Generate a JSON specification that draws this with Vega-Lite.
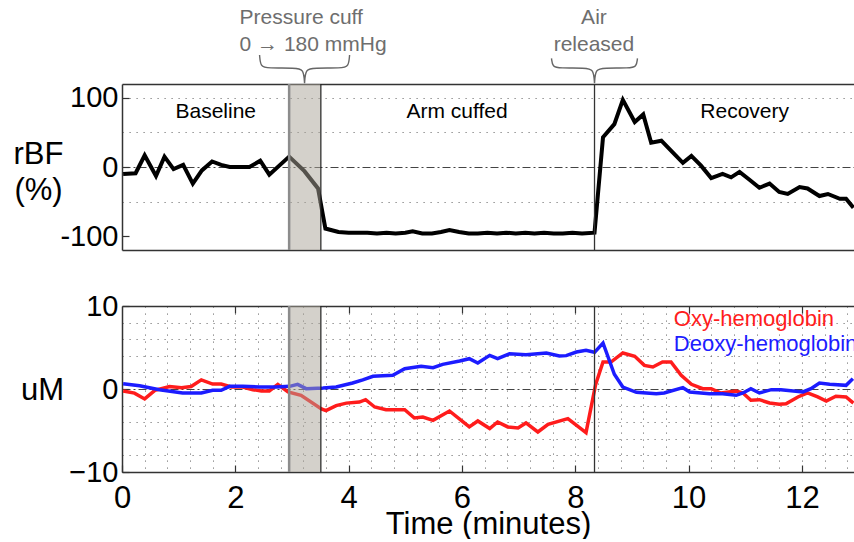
{
  "$schema": "https://vega.github.io/schema/vega-lite/v6.json",
  "background": "white",
  "padding": {"left": 13, "top": 7, "right": 0, "bottom": 0},
  "spacing": 40,
  "config": {
    "font": "Liberation Sans",
    "view": {"stroke": null},
    "axis": {
      "labelFont": "Liberation Sans",
      "titleFont": "Liberation Sans",
      "labelColor": "#000",
      "titleColor": "#000",
      "titleFontWeight": "normal",
      "domainColor": "#333",
      "domainWidth": 1.5,
      "tickColor": "#333",
      "tickWidth": 1.2,
      "labelFlush": false,
      "labelOverlap": false
    }
  },
  "datasets": {
    "rbf": [
      {"t": 0.02, "rbf": -10}, {"t": 0.24, "rbf": -9}, {"t": 0.40, "rbf": 17}, {"t": 0.60, "rbf": -13},
      {"t": 0.75, "rbf": 15}, {"t": 0.91, "rbf": -3}, {"t": 1.08, "rbf": 3}, {"t": 1.25, "rbf": -24},
      {"t": 1.41, "rbf": -5}, {"t": 1.59, "rbf": 8}, {"t": 1.75, "rbf": 3}, {"t": 1.90, "rbf": 0},
      {"t": 2.25, "rbf": 0}, {"t": 2.44, "rbf": 9}, {"t": 2.60, "rbf": -11}, {"t": 2.95, "rbf": 15},
      {"t": 3.22, "rbf": -6}, {"t": 3.46, "rbf": -31}, {"t": 3.59, "rbf": -89}, {"t": 3.82, "rbf": -94},
      {"t": 4.00, "rbf": -95}, {"t": 4.17, "rbf": -95}, {"t": 4.33, "rbf": -95}, {"t": 4.50, "rbf": -96},
      {"t": 4.67, "rbf": -95}, {"t": 4.83, "rbf": -96}, {"t": 5.00, "rbf": -95}, {"t": 5.13, "rbf": -93},
      {"t": 5.30, "rbf": -96}, {"t": 5.47, "rbf": -96}, {"t": 5.63, "rbf": -94}, {"t": 5.78, "rbf": -91},
      {"t": 5.95, "rbf": -94}, {"t": 6.12, "rbf": -96}, {"t": 6.28, "rbf": -96}, {"t": 6.45, "rbf": -95},
      {"t": 6.62, "rbf": -96}, {"t": 6.78, "rbf": -95}, {"t": 6.95, "rbf": -96}, {"t": 7.12, "rbf": -95},
      {"t": 7.28, "rbf": -96}, {"t": 7.45, "rbf": -95}, {"t": 7.62, "rbf": -96}, {"t": 7.78, "rbf": -96},
      {"t": 7.95, "rbf": -95}, {"t": 8.12, "rbf": -96}, {"t": 8.34, "rbf": -95}, {"t": 8.49, "rbf": 43},
      {"t": 8.69, "rbf": 62}, {"t": 8.84, "rbf": 97}, {"t": 9.05, "rbf": 65}, {"t": 9.20, "rbf": 76},
      {"t": 9.34, "rbf": 35}, {"t": 9.52, "rbf": 38}, {"t": 9.72, "rbf": 21}, {"t": 9.90, "rbf": 6},
      {"t": 10.05, "rbf": 16}, {"t": 10.22, "rbf": 2}, {"t": 10.40, "rbf": -16}, {"t": 10.60, "rbf": -10},
      {"t": 10.75, "rbf": -15}, {"t": 10.90, "rbf": -7}, {"t": 11.07, "rbf": -18}, {"t": 11.25, "rbf": -30},
      {"t": 11.43, "rbf": -24}, {"t": 11.60, "rbf": -36}, {"t": 11.75, "rbf": -39}, {"t": 11.96, "rbf": -29},
      {"t": 12.10, "rbf": -31}, {"t": 12.31, "rbf": -42}, {"t": 12.46, "rbf": -39}, {"t": 12.67, "rbf": -46},
      {"t": 12.78, "rbf": -46}, {"t": 12.91, "rbf": -59}
    ],
    "hb": [
      {"species": "Oxy-hemoglobin", "t": 0.02, "uM": -0.24}, {"species": "Oxy-hemoglobin", "t": 0.22, "uM": -0.5},
      {"species": "Oxy-hemoglobin", "t": 0.40, "uM": -1.2}, {"species": "Oxy-hemoglobin", "t": 0.58, "uM": -0.16},
      {"species": "Oxy-hemoglobin", "t": 0.84, "uM": 0.3}, {"species": "Oxy-hemoglobin", "t": 1.05, "uM": 0.16},
      {"species": "Oxy-hemoglobin", "t": 1.22, "uM": 0.3}, {"species": "Oxy-hemoglobin", "t": 1.40, "uM": 1.1},
      {"species": "Oxy-hemoglobin", "t": 1.60, "uM": 0.6}, {"species": "Oxy-hemoglobin", "t": 1.75, "uM": 0.6},
      {"species": "Oxy-hemoglobin", "t": 1.93, "uM": 0.24}, {"species": "Oxy-hemoglobin", "t": 2.13, "uM": 0.24},
      {"species": "Oxy-hemoglobin", "t": 2.31, "uM": -0.08}, {"species": "Oxy-hemoglobin", "t": 2.46, "uM": -0.24},
      {"species": "Oxy-hemoglobin", "t": 2.60, "uM": -0.24}, {"species": "Oxy-hemoglobin", "t": 2.75, "uM": 0.56},
      {"species": "Oxy-hemoglobin", "t": 2.93, "uM": -0.36}, {"species": "Oxy-hemoglobin", "t": 3.16, "uM": -0.76},
      {"species": "Oxy-hemoglobin", "t": 3.52, "uM": -2.4}, {"species": "Oxy-hemoglobin", "t": 3.60, "uM": -2.6},
      {"species": "Oxy-hemoglobin", "t": 3.78, "uM": -2.0}, {"species": "Oxy-hemoglobin", "t": 3.96, "uM": -1.7},
      {"species": "Oxy-hemoglobin", "t": 4.19, "uM": -1.57}, {"species": "Oxy-hemoglobin", "t": 4.30, "uM": -1.29},
      {"species": "Oxy-hemoglobin", "t": 4.46, "uM": -2.17}, {"species": "Oxy-hemoglobin", "t": 4.66, "uM": -2.49},
      {"species": "Oxy-hemoglobin", "t": 4.99, "uM": -2.49}, {"species": "Oxy-hemoglobin", "t": 5.16, "uM": -3.49},
      {"species": "Oxy-hemoglobin", "t": 5.31, "uM": -3.37}, {"species": "Oxy-hemoglobin", "t": 5.49, "uM": -3.77},
      {"species": "Oxy-hemoglobin", "t": 5.78, "uM": -2.65}, {"species": "Oxy-hemoglobin", "t": 6.02, "uM": -3.97},
      {"species": "Oxy-hemoglobin", "t": 6.13, "uM": -4.57}, {"species": "Oxy-hemoglobin", "t": 6.28, "uM": -3.85},
      {"species": "Oxy-hemoglobin", "t": 6.49, "uM": -4.77}, {"species": "Oxy-hemoglobin", "t": 6.63, "uM": -3.97},
      {"species": "Oxy-hemoglobin", "t": 6.81, "uM": -4.57}, {"species": "Oxy-hemoglobin", "t": 6.99, "uM": -4.69},
      {"species": "Oxy-hemoglobin", "t": 7.13, "uM": -4.09}, {"species": "Oxy-hemoglobin", "t": 7.34, "uM": -5.18},
      {"species": "Oxy-hemoglobin", "t": 7.52, "uM": -4.25}, {"species": "Oxy-hemoglobin", "t": 7.87, "uM": -3.57},
      {"species": "Oxy-hemoglobin", "t": 8.19, "uM": -5.26}, {"species": "Oxy-hemoglobin", "t": 8.36, "uM": 0.56},
      {"species": "Oxy-hemoglobin", "t": 8.49, "uM": 3.25}, {"species": "Oxy-hemoglobin", "t": 8.63, "uM": 3.25},
      {"species": "Oxy-hemoglobin", "t": 8.84, "uM": 4.34}, {"species": "Oxy-hemoglobin", "t": 9.05, "uM": 3.94},
      {"species": "Oxy-hemoglobin", "t": 9.22, "uM": 2.85}, {"species": "Oxy-hemoglobin", "t": 9.37, "uM": 2.65},
      {"species": "Oxy-hemoglobin", "t": 9.54, "uM": 3.25}, {"species": "Oxy-hemoglobin", "t": 9.69, "uM": 3.25},
      {"species": "Oxy-hemoglobin", "t": 9.87, "uM": 1.65}, {"species": "Oxy-hemoglobin", "t": 10.05, "uM": 0.56},
      {"species": "Oxy-hemoglobin", "t": 10.25, "uM": 0.04}, {"species": "Oxy-hemoglobin", "t": 10.40, "uM": 0.04},
      {"species": "Oxy-hemoglobin", "t": 10.57, "uM": -0.48}, {"species": "Oxy-hemoglobin", "t": 10.84, "uM": -0.24},
      {"species": "Oxy-hemoglobin", "t": 10.96, "uM": -0.48}, {"species": "Oxy-hemoglobin", "t": 11.10, "uM": -1.36},
      {"species": "Oxy-hemoglobin", "t": 11.25, "uM": -1.29}, {"species": "Oxy-hemoglobin", "t": 11.43, "uM": -1.69},
      {"species": "Oxy-hemoglobin", "t": 11.60, "uM": -1.85}, {"species": "Oxy-hemoglobin", "t": 11.72, "uM": -1.77},
      {"species": "Oxy-hemoglobin", "t": 11.93, "uM": -0.96}, {"species": "Oxy-hemoglobin", "t": 12.10, "uM": -0.48},
      {"species": "Oxy-hemoglobin", "t": 12.28, "uM": -0.96}, {"species": "Oxy-hemoglobin", "t": 12.43, "uM": -1.45},
      {"species": "Oxy-hemoglobin", "t": 12.60, "uM": -0.88}, {"species": "Oxy-hemoglobin", "t": 12.78, "uM": -0.96},
      {"species": "Oxy-hemoglobin", "t": 12.91, "uM": -1.69},
      {"species": "Deoxy-hemoglobin", "t": 0.02, "uM": 0.64}, {"species": "Deoxy-hemoglobin", "t": 0.31, "uM": 0.4},
      {"species": "Deoxy-hemoglobin", "t": 0.66, "uM": -0.08}, {"species": "Deoxy-hemoglobin", "t": 1.07, "uM": -0.48},
      {"species": "Deoxy-hemoglobin", "t": 1.40, "uM": -0.48}, {"species": "Deoxy-hemoglobin", "t": 1.60, "uM": -0.16},
      {"species": "Deoxy-hemoglobin", "t": 1.75, "uM": -0.16}, {"species": "Deoxy-hemoglobin", "t": 1.90, "uM": 0.32},
      {"species": "Deoxy-hemoglobin", "t": 2.13, "uM": 0.32}, {"species": "Deoxy-hemoglobin", "t": 2.43, "uM": 0.24},
      {"species": "Deoxy-hemoglobin", "t": 2.72, "uM": 0.24}, {"species": "Deoxy-hemoglobin", "t": 2.96, "uM": 0.32},
      {"species": "Deoxy-hemoglobin", "t": 3.10, "uM": 0.56}, {"species": "Deoxy-hemoglobin", "t": 3.25, "uM": 0.04},
      {"species": "Deoxy-hemoglobin", "t": 3.55, "uM": 0.12}, {"species": "Deoxy-hemoglobin", "t": 3.78, "uM": 0.24},
      {"species": "Deoxy-hemoglobin", "t": 4.07, "uM": 0.72}, {"species": "Deoxy-hemoglobin", "t": 4.25, "uM": 1.1},
      {"species": "Deoxy-hemoglobin", "t": 4.43, "uM": 1.53}, {"species": "Deoxy-hemoglobin", "t": 4.78, "uM": 1.65},
      {"species": "Deoxy-hemoglobin", "t": 4.99, "uM": 2.45}, {"species": "Deoxy-hemoglobin", "t": 5.28, "uM": 2.73},
      {"species": "Deoxy-hemoglobin", "t": 5.49, "uM": 2.57}, {"species": "Deoxy-hemoglobin", "t": 5.66, "uM": 2.97},
      {"species": "Deoxy-hemoglobin", "t": 5.96, "uM": 3.37}, {"species": "Deoxy-hemoglobin", "t": 6.13, "uM": 3.65},
      {"species": "Deoxy-hemoglobin", "t": 6.28, "uM": 3.13}, {"species": "Deoxy-hemoglobin", "t": 6.49, "uM": 4.05},
      {"species": "Deoxy-hemoglobin", "t": 6.63, "uM": 3.65}, {"species": "Deoxy-hemoglobin", "t": 6.84, "uM": 4.25},
      {"species": "Deoxy-hemoglobin", "t": 7.13, "uM": 4.13}, {"species": "Deoxy-hemoglobin", "t": 7.49, "uM": 4.34},
      {"species": "Deoxy-hemoglobin", "t": 7.72, "uM": 3.98}, {"species": "Deoxy-hemoglobin", "t": 7.84, "uM": 4.02},
      {"species": "Deoxy-hemoglobin", "t": 8.02, "uM": 4.46}, {"species": "Deoxy-hemoglobin", "t": 8.19, "uM": 4.66},
      {"species": "Deoxy-hemoglobin", "t": 8.34, "uM": 4.42}, {"species": "Deoxy-hemoglobin", "t": 8.49, "uM": 5.54},
      {"species": "Deoxy-hemoglobin", "t": 8.69, "uM": 1.77}, {"species": "Deoxy-hemoglobin", "t": 8.84, "uM": 0.24},
      {"species": "Deoxy-hemoglobin", "t": 9.08, "uM": -0.4}, {"species": "Deoxy-hemoglobin", "t": 9.43, "uM": -0.56},
      {"species": "Deoxy-hemoglobin", "t": 9.57, "uM": -0.48}, {"species": "Deoxy-hemoglobin", "t": 9.90, "uM": 0.16},
      {"species": "Deoxy-hemoglobin", "t": 10.02, "uM": -0.36}, {"species": "Deoxy-hemoglobin", "t": 10.37, "uM": -0.56},
      {"species": "Deoxy-hemoglobin", "t": 10.60, "uM": -0.56}, {"species": "Deoxy-hemoglobin", "t": 10.84, "uM": -0.76},
      {"species": "Deoxy-hemoglobin", "t": 10.96, "uM": -0.48}, {"species": "Deoxy-hemoglobin", "t": 11.10, "uM": 0.04},
      {"species": "Deoxy-hemoglobin", "t": 11.25, "uM": -0.48}, {"species": "Deoxy-hemoglobin", "t": 11.46, "uM": -0.08},
      {"species": "Deoxy-hemoglobin", "t": 11.63, "uM": -0.08}, {"species": "Deoxy-hemoglobin", "t": 12.02, "uM": -0.36},
      {"species": "Deoxy-hemoglobin", "t": 12.16, "uM": 0.04}, {"species": "Deoxy-hemoglobin", "t": 12.31, "uM": 0.72},
      {"species": "Deoxy-hemoglobin", "t": 12.49, "uM": 0.56}, {"species": "Deoxy-hemoglobin", "t": 12.78, "uM": 0.44},
      {"species": "Deoxy-hemoglobin", "t": 12.90, "uM": 1.25}
    ],
    "hbNames": [
      {"species": "Oxy-hemoglobin", "t": 9.74, "uM": 8.47},
      {"species": "Deoxy-hemoglobin", "t": 9.74, "uM": 5.42}
    ],
    "cuff": [{"start": 2.95, "end": 3.51}],
    "release": [{"t": 8.34}],
    "phases": [
      {"label": "Baseline", "t": 1.655, "rbf": 79.5},
      {"label": "Arm cuffed", "t": 5.913, "rbf": 79.5},
      {"label": "Recovery", "t": 10.99, "rbf": 79.5}
    ],
    "cuffNote": [
      {"text": "Pressure cuff", "t": 2.075, "rbf": 206.7},
      {"text": "0 → 180 mmHg", "t": 2.075, "rbf": 167.7}
    ],
    "releaseNote": [
      {"text": "Air", "t": 8.33, "rbf": 206.7},
      {"text": "released", "t": 8.33, "rbf": 167.7}
    ],
    "braces": [
      {"brace": "cuff", "i": 0, "t": 2.428, "rbf": 162},
      {"brace": "cuff", "i": 1, "t": 2.428, "rbf": 162},
      {"brace": "cuff", "i": 2, "t": 2.446, "rbf": 144.6},
      {"brace": "cuff", "i": 3, "t": 2.569, "rbf": 143.1},
      {"brace": "cuff", "i": 4, "t": 3.063, "rbf": 143.1},
      {"brace": "cuff", "i": 5, "t": 3.205, "rbf": 141.7},
      {"brace": "cuff", "i": 6, "t": 3.222, "rbf": 121},
      {"brace": "cuff", "i": 7, "t": 3.222, "rbf": 121},
      {"brace": "cuff", "i": 8, "t": 3.222, "rbf": 121},
      {"brace": "cuff", "i": 9, "t": 3.240, "rbf": 141.7},
      {"brace": "cuff", "i": 10, "t": 3.381, "rbf": 143.1},
      {"brace": "cuff", "i": 11, "t": 3.875, "rbf": 143.1},
      {"brace": "cuff", "i": 12, "t": 3.999, "rbf": 144.6},
      {"brace": "cuff", "i": 13, "t": 4.017, "rbf": 162},
      {"brace": "cuff", "i": 14, "t": 4.017, "rbf": 162},
      {"brace": "release", "i": 0, "t": 7.581, "rbf": 157},
      {"brace": "release", "i": 1, "t": 7.581, "rbf": 157},
      {"brace": "release", "i": 2, "t": 7.599, "rbf": 144.6},
      {"brace": "release", "i": 3, "t": 7.722, "rbf": 143.1},
      {"brace": "release", "i": 4, "t": 8.181, "rbf": 143.1},
      {"brace": "release", "i": 5, "t": 8.322, "rbf": 141.7},
      {"brace": "release", "i": 6, "t": 8.340, "rbf": 121},
      {"brace": "release", "i": 7, "t": 8.340, "rbf": 121},
      {"brace": "release", "i": 8, "t": 8.340, "rbf": 121},
      {"brace": "release", "i": 9, "t": 8.357, "rbf": 141.7},
      {"brace": "release", "i": 10, "t": 8.499, "rbf": 143.1},
      {"brace": "release", "i": 11, "t": 8.957, "rbf": 143.1},
      {"brace": "release", "i": 12, "t": 9.081, "rbf": 144.6},
      {"brace": "release", "i": 13, "t": 9.098, "rbf": 157},
      {"brace": "release", "i": 14, "t": 9.098, "rbf": 157}
    ]
  },
  "vconcat": [
    {
      "width": 732,
      "height": 166,
      "resolve": {"axis": {"x": "independent", "y": "independent"}},
      "layer": [
        {
          "data": {"name": "rbf"},
          "mark": {"type": "line", "color": "#000", "strokeWidth": 4, "clip": true},
          "encoding": {
            "x": {"field": "t", "type": "quantitative", "scale": {"domain": [0, 12.92], "nice": false, "zero": false},
                  "axis": {"orient": "bottom", "labels": false, "ticks": false, "grid": false, "title": null, "domain": true}},
            "y": {"field": "rbf", "type": "quantitative", "scale": {"domain": [-120, 120], "nice": false},
                  "axis": {
                    "orient": "left",
                    "values": [100, 50, 0, -50, -100],
                    "labelExpr": "datum.value == 100 ? '100' : datum.value == 0 ? '0' : datum.value == -100 ? '-100' : ''",
                    "labelFontSize": 29,
                    "labelPadding": 11,
                    "tickSize": -7,
                    "tickOpacity": {"condition": {"test": "abs(datum.value) == 50", "value": 0}, "value": 1},
                    "grid": true,
                    "gridWidth": 1,
                    "gridColor": {"condition": {"test": "datum.value == 0", "value": "#444"}, "value": "#777"},
                    "gridDash": {"condition": {"test": "datum.value == 0", "value": [8, 3, 2, 3]}, "value": [1.2, 5.8]},
                    "gridOpacity": {"condition": {"test": "datum.value == -100", "value": 0}, "value": 1},
                    "domain": true,
                    "title": ["rBF", "(%)"],
                    "titleFontSize": 31,
                    "titleAngle": 0,
                    "titleAlign": "center",
                    "titleBaseline": "middle",
                    "titleX": -84,
                    "titleY": 70,
                    "titleLineHeight": 36
                  }}
          }
        },
        {
          "data": {"name": "cuff"},
          "mark": {"type": "rect", "color": "#a9a398", "opacity": 0.5},
          "encoding": {
            "x": {"field": "start", "type": "quantitative", "scale": {"domain": [0, 12.92], "nice": false, "zero": false},
                  "axis": {"orient": "top", "labels": false, "ticks": false, "grid": false, "title": null, "domain": true}},
            "x2": {"field": "end"}
          }
        },
        {
          "data": {"name": "cuff"},
          "mark": {"type": "rule", "color": "#8c8c8c", "strokeWidth": 2.5},
          "encoding": {"x": {"field": "start", "type": "quantitative", "scale": {"domain": [0, 12.92], "nice": false, "zero": false}, "axis": null}}
        },
        {
          "data": {"name": "cuff"},
          "mark": {"type": "rule", "color": "#222", "strokeWidth": 1.2},
          "encoding": {"x": {"field": "end", "type": "quantitative", "scale": {"domain": [0, 12.92], "nice": false, "zero": false}, "axis": null}}
        },
        {
          "data": {"name": "release"},
          "mark": {"type": "rule", "color": "#333", "strokeWidth": 1.3},
          "encoding": {"x": {"field": "t", "type": "quantitative", "scale": {"domain": [0, 12.92], "nice": false, "zero": false}, "axis": null}}
        },
        {
          "data": {"name": "braces"},
          "mark": {"type": "line", "color": "#666", "strokeWidth": 1.4, "interpolate": "basis", "clip": false},
          "encoding": {
            "x": {"field": "t", "type": "quantitative", "scale": {"domain": [0, 12.92], "nice": false, "zero": false}, "axis": null},
            "y": {"field": "rbf", "type": "quantitative", "scale": {"domain": [-120, 120], "nice": false}, "axis": null},
            "detail": {"field": "brace"},
            "order": {"field": "i", "type": "quantitative"}
          }
        },
        {
          "data": {"name": "cuffNote"},
          "mark": {"type": "text", "color": "#6e6e6e", "fontSize": 21, "align": "left", "baseline": "alphabetic", "clip": false},
          "encoding": {
            "x": {"field": "t", "type": "quantitative", "scale": {"domain": [0, 12.92], "nice": false, "zero": false}, "axis": null},
            "y": {"field": "rbf", "type": "quantitative", "scale": {"domain": [-120, 120], "nice": false}, "axis": null},
            "text": {"field": "text"}
          }
        },
        {
          "data": {"name": "releaseNote"},
          "mark": {"type": "text", "color": "#6e6e6e", "fontSize": 21, "align": "center", "baseline": "alphabetic", "clip": false},
          "encoding": {
            "x": {"field": "t", "type": "quantitative", "scale": {"domain": [0, 12.92], "nice": false, "zero": false}, "axis": null},
            "y": {"field": "rbf", "type": "quantitative", "scale": {"domain": [-120, 120], "nice": false}, "axis": null},
            "text": {"field": "text"}
          }
        },
        {
          "data": {"name": "phases"},
          "mark": {"type": "text", "color": "#000", "fontSize": 21, "align": "center", "baseline": "middle"},
          "encoding": {
            "x": {"field": "t", "type": "quantitative", "scale": {"domain": [0, 12.92], "nice": false, "zero": false}, "axis": null},
            "y": {"field": "rbf", "type": "quantitative", "scale": {"domain": [-120, 120], "nice": false}, "axis": null},
            "text": {"field": "label"}
          }
        }
      ]
    },
    {
      "width": 732,
      "height": 166,
      "resolve": {"axis": {"x": "independent", "y": "independent"}},
      "layer": [
        {
          "data": {"name": "hb"},
          "mark": {"type": "line", "strokeWidth": 3.5, "clip": true},
          "encoding": {
            "x": {"field": "t", "type": "quantitative", "scale": {"domain": [0, 12.92], "nice": false, "zero": false},
                  "axis": {
                    "orient": "bottom",
                    "values": [0, 2, 4, 6, 8, 10, 12],
                    "format": "d",
                    "labelFontSize": 31,
                    "labelPadding": 18,
                    "tickSize": -7,
                    "grid": false,
                    "domain": true,
                    "title": "Time (minutes)",
                    "titleFontSize": 31,
                    "titlePadding": -4
                  }},
            "y": {"field": "uM", "type": "quantitative", "scale": {"domain": [-10, 10], "nice": false},
                  "axis": {
                    "orient": "left",
                    "values": [-10, -8, -6, -4, -2, 0, 2, 4, 6, 8, 10],
                    "labelExpr": "abs(datum.value) == 10 || datum.value == 0 ? datum.label : ''",
                    "labelFontSize": 29,
                    "labelPadding": 11,
                    "tickSize": -7,
                    "tickOpacity": {"condition": {"test": "abs(datum.value) == 10 || datum.value == 0", "value": 1}, "value": 0},
                    "grid": true,
                    "gridWidth": 1,
                    "gridColor": {"condition": {"test": "datum.value == 0", "value": "#444"}, "value": "#777"},
                    "gridDash": {"condition": {"test": "datum.value == 0", "value": [8, 3, 2, 3]}, "value": [1.2, 5.8]},
                    "gridOpacity": {"condition": {"test": "abs(datum.value) == 10", "value": 0}, "value": 1},
                    "domain": true,
                    "title": "uM",
                    "titleFontSize": 31,
                    "titleAngle": 0,
                    "titleAlign": "center",
                    "titleBaseline": "middle",
                    "titleX": -80,
                    "titleY": 84
                  }},
            "color": {"field": "species", "type": "nominal",
                      "scale": {"domain": ["Oxy-hemoglobin", "Deoxy-hemoglobin"], "range": ["#ff1c1c", "#1c1cff"]},
                      "legend": null}
          }
        },
        {
          "data": {"name": "cuff"},
          "mark": {"type": "rect", "color": "#a9a398", "opacity": 0.5},
          "encoding": {
            "x": {"field": "start", "type": "quantitative", "scale": {"domain": [0, 12.92], "nice": false, "zero": false},
                  "axis": {
                    "orient": "top",
                    "values": [0.4, 0.8, 1.2, 1.6, 2, 2.4, 2.8, 3.2, 3.6, 4, 4.4, 4.8, 5.2, 5.6, 6, 6.4, 6.8, 7.2, 7.6, 8, 8.4, 8.8, 9.2, 9.6, 10, 10.4, 10.8, 11.2, 11.6, 12, 12.4, 12.8],
                    "labels": false,
                    "tickSize": -7,
                    "tickOpacity": {"condition": {"test": "datum.value % 2 == 0", "value": 1}, "value": 0},
                    "grid": true,
                    "gridWidth": 1,
                    "gridColor": "#777",
                    "gridDash": [1.2, 5.8],
                    "title": null,
                    "domain": true
                  }},
            "x2": {"field": "end"}
          }
        },
        {
          "data": {"name": "cuff"},
          "mark": {"type": "rule", "color": "#8c8c8c", "strokeWidth": 2.5},
          "encoding": {"x": {"field": "start", "type": "quantitative", "scale": {"domain": [0, 12.92], "nice": false, "zero": false}, "axis": null}}
        },
        {
          "data": {"name": "cuff"},
          "mark": {"type": "rule", "color": "#222", "strokeWidth": 1.2},
          "encoding": {"x": {"field": "end", "type": "quantitative", "scale": {"domain": [0, 12.92], "nice": false, "zero": false}, "axis": null}}
        },
        {
          "data": {"name": "release"},
          "mark": {"type": "rule", "color": "#333", "strokeWidth": 1.3},
          "encoding": {"x": {"field": "t", "type": "quantitative", "scale": {"domain": [0, 12.92], "nice": false, "zero": false}, "axis": null}}
        },
        {
          "data": {"name": "hbNames"},
          "mark": {"type": "text", "fontSize": 22, "align": "left", "baseline": "middle", "clip": true},
          "encoding": {
            "x": {"field": "t", "type": "quantitative", "scale": {"domain": [0, 12.92], "nice": false, "zero": false}, "axis": null},
            "y": {"field": "uM", "type": "quantitative", "scale": {"domain": [-10, 10], "nice": false}, "axis": null},
            "text": {"field": "species"},
            "color": {"field": "species", "type": "nominal",
                      "scale": {"domain": ["Oxy-hemoglobin", "Deoxy-hemoglobin"], "range": ["#ff1c1c", "#1c1cff"]},
                      "legend": null}
          }
        }
      ]
    }
  ]
}
